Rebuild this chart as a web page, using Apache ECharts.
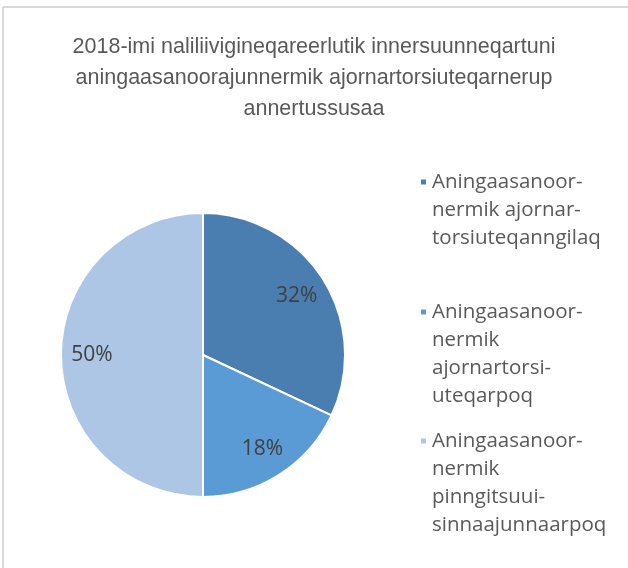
<!DOCTYPE html>
<html>
<head>
<meta charset="utf-8">
<script src="https://cdn.jsdelivr.net/npm/echarts@6/dist/echarts.min.js"></script>
<style>
  body { margin: 0; background: #fff; }
  #chart { width: 628px; height: 568px; }
</style>
</head>
<body>
<div id="chart"></div>
<script>
var titleText = '2018-imi naliliivigineqareerlutik innersuunneqartuni\naningaasanoorajunnermik ajornartorsiuteqarnerup\nannertussusaa';

var categories = [
  'Aningaasanoor-\nnermik ajornar-\ntorsiuteqanngilaq',
  'Aningaasanoor-\nnermik\najornartorsi-\nuteqarpoq',
  'Aningaasanoor-\nnermik\npinngitsuui-\nsinnaajunnaarpoq'
];
var values = [32, 18, 50];
var colors = ['#4a7eb0', '#5b9bd5', '#adc6e5'];

var chartDom = document.getElementById('chart');
var myChart = echarts.init(chartDom);

var pieData = categories.map(function (c, i) {
  return { name: c, value: values[i], itemStyle: { color: colors[i] } };
});

// one legend per item so the marker sits on the first text line, like the original
var lineH = 28;
var iconY = [182, 312, 441];
var legends = categories.map(function (c, i) {
  var n = c.split('\n').length;
  return {
    data: [c],
    orient: 'vertical',
    left: 419,
    top: iconY[i] - (lineH * n - 14),
    padding: 0,
    icon: 'rect',
    itemWidth: 7,
    itemHeight: 7,
    selectedMode: false,
    formatter: function (name) {
      var pad = '';
      for (var k = 1; k < n; k++) pad += ' \n';
      return pad + name;
    },
    textStyle: {
      fontFamily: 'Open Sans',
      fontSize: 20.5,
      color: '#595959',
      lineHeight: lineH
    }
  };
});

var option = {
  animation: false,
  title: {
    text: titleText,
    left: 'center',
    top: 27,
    textStyle: {
      fontFamily: 'Liberation Sans',
      fontSize: 21.5,
      fontWeight: 'normal',
      color: '#595959',
      lineHeight: 31
    }
  },
  legend: legends,
  graphic: [
    { type: 'line', shape: { x1: 3, y1: 7, x2: 628, y2: 7 }, style: { stroke: '#d9d9d9', lineWidth: 2 } },
    { type: 'line', shape: { x1: 3, y1: 7, x2: 3, y2: 568 }, style: { stroke: '#d9d9d9', lineWidth: 2 } }
  ],
  series: [
    {
      type: 'pie',
      center: [203, 355],
      radius: [0, 142],
      startAngle: 90,
      clockwise: true,
      label: { show: false },
      labelLine: { show: false },
      itemStyle: { borderColor: '#fff', borderWidth: 2 },
      data: pieData
    },
    {
      // label-only ring so the percentages sit near the rim like the original
      type: 'pie',
      center: [203, 355],
      radius: [74, 142],
      startAngle: 90,
      clockwise: true,
      silent: true,
      legendHoverLink: false,
      itemStyle: { color: 'transparent' },
      label: {
        show: true,
        position: 'inside',
        formatter: '{c}%',
        fontFamily: 'Open Sans',
        fontSize: 21,
        color: '#404040'
      },
      labelLine: { show: false },
      data: pieData.map(function (d) {
        return { name: d.name, value: d.value, itemStyle: { color: 'transparent' } };
      })
    }
  ]
};
option && myChart.setOption(option);
</script>
</body>
</html>
